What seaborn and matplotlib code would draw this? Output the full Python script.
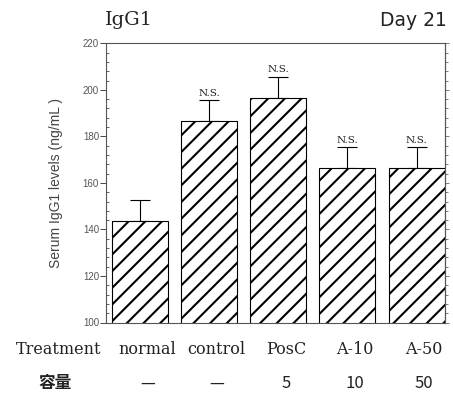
import matplotlib
matplotlib.use("Agg")
import matplotlib.pyplot as plt
import matplotlib.transforms as mtransforms
from matplotlib.ticker import MultipleLocator
import seaborn as sns
import pandas as pd
import numpy as np

# ---- data ----
treatments = ["normal", "control", "PosC", "A-10", "A-50"]
doses = ["—", "—", "5", "10", "50"]
means = [143.6, 186.8, 196.7, 166.6, 166.2]
errors = [9.1, 8.9, 9.0, 9.0, 9.4]
signif = ["", "N.S.", "N.S.", "N.S.", "N.S."]
yticks = [100, 120, 140, 160, 180, 200, 220]

sns.set_theme(style="white")
plt.rcParams["hatch.linewidth"] = 1.5
plt.rcParams["font.family"] = ["Liberation Sans", "DejaVu Sans"]

df = pd.DataFrame({"Treatment": treatments, "value": means})

fig = plt.figure(figsize=(4.53, 3.94), dpi=100)
ax = fig.add_axes([106 / 453, 1 - 322.5 / 394, (445 - 106) / 453, (322.5 - 43.3) / 394])

sns.barplot(data=df, x="Treatment", y="value", color="white", edgecolor="black",
            linewidth=0.8, width=0.81, hatch="//", errorbar=None, ax=ax, zorder=2)
for p in ax.patches:
    p.set_facecolor("white")
    p.set_hatch("//")

xs = np.arange(len(treatments))
ax.errorbar(xs, means, yerr=[np.zeros(len(errors)), errors], fmt="none",
            ecolor="black", elinewidth=0.8, capsize=7.5, capthick=0.8, zorder=1)

for x, m, e, s in zip(xs, means, errors, signif):
    if s:
        ax.annotate(s, (x, m + e), xytext=(0, 1.5), textcoords="offset points",
                    ha="center", va="bottom", fontsize=7.5, family="DejaVu Serif",
                    color="#222222")

ax.set_ylim(100, 220)
ax.set_xlim(-0.49, 4.41)
ax.set_yticks(yticks)
ax.yaxis.set_minor_locator(MultipleLocator(4))
ax.tick_params(axis="y", which="major", direction="out", length=4, width=0.7,
               labelsize=7, labelcolor="#555555", color="#444444", pad=1, left=True)
ax.tick_params(axis="y", which="minor", direction="in", length=2.5, width=0.6,
               color="#444444", left=True)
ax.tick_params(axis="x", bottom=False, labelbottom=False)
ax.set_xlabel("")
ax.set_ylabel("Serum IgG1 levels (ng/mL )", fontsize=10, color="#444444", labelpad=14)
for sp in ax.spines.values():
    sp.set_visible(True)
    sp.set_color("#555555")
    sp.set_linewidth(0.8)

sec = ax.secondary_yaxis("right")
sec.set_yticks(yticks)
sec.yaxis.set_minor_locator(MultipleLocator(4))
sec.tick_params(axis="y", which="major", direction="out", length=3, width=0.6,
                labelright=False, color="#666666")
sec.tick_params(axis="y", which="minor", direction="out", length=2, width=0.6,
                color="#666666")
sec.spines["right"].set_color("#555555")
sec.spines["right"].set_linewidth(0.8)

# titles
fig.text(105 / 453, 1 - 20 / 394, "IgG1", family="DejaVu Serif", fontsize=14,
         ha="left", va="center", color="#222222")
fig.text(447 / 453, 1 - 20 / 394, "Day 21", family="DejaVu Sans", fontsize=13.5,
         ha="right", va="center", color="#222222")

# table under the axis
trans = mtransforms.blended_transform_factory(ax.transData, fig.transFigure)
y1 = 1 - 350 / 394
y2 = 1 - 383 / 394
fig.text(59 / 453, y1, "Treatment", family="DejaVu Serif", fontsize=11.5,
         ha="center", va="center", color="#222222")
fig.text(55 / 453, y2, "容量", family=["Noto Sans CJK JP", "DejaVu Sans"], fontsize=12,
         ha="center", va="center", color="#222222", fontweight="bold")
for x, t, d in zip(xs, treatments, doses):
    ax.text(x + 0.11, y1, t, transform=trans, family="DejaVu Serif", fontsize=11.5,
            ha="center", va="center", color="#222222")
    ax.text(x + 0.11, y2, d, transform=trans, family=["Noto Sans CJK JP", "DejaVu Sans"],
            fontsize=12, ha="center", va="center", color="#222222")

fig.savefig("out.png", dpi=100)
